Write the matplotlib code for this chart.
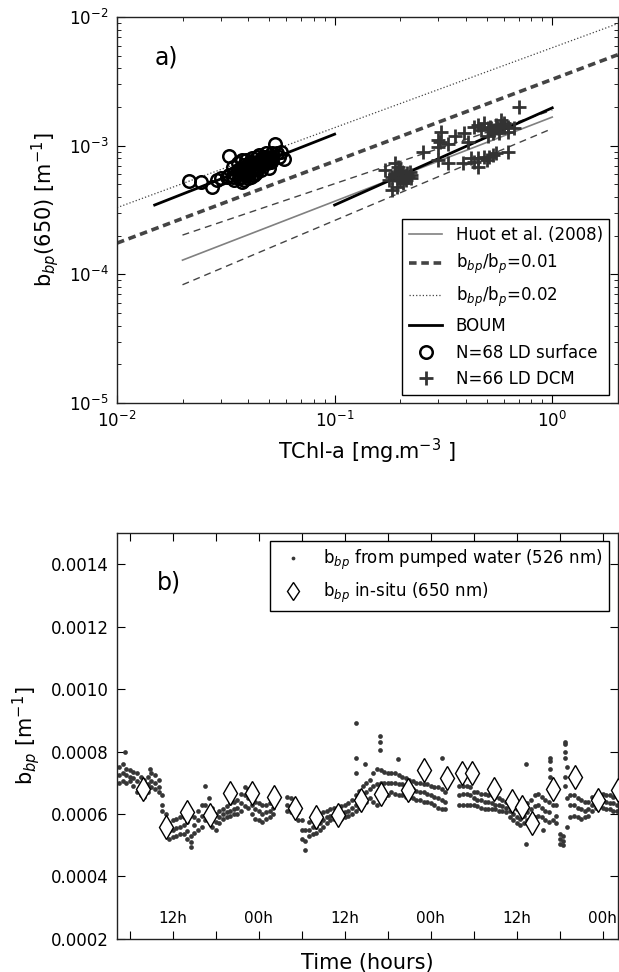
import numpy as np
import matplotlib
matplotlib.use('Agg')
import matplotlib.pyplot as plt

plt.rcParams['font.family'] = ['DejaVu Sans']
plt.rcParams['mathtext.fontset'] = 'dejavusans'

# ---------------- panel a) data ----------------
# model / fit lines (end points)
huot_x = [0.02, 1.0]
huot_y = [1.29e-4, 1.67e-3]
huot_up = [2.02e-4, 1.89e-3]
huot_lo = [8.3e-5, 1.36e-3]
ratio_x = [0.01, 2.0]
ratio001_y = [1.75e-4, 5.1e-3]
ratio002_y = [3.3e-4, 8.9e-3]
boum_surf_x = [0.0149, 0.1]
boum_surf_y = [3.46e-4, 1.23e-3]
boum_dcm_x = [0.1, 1.0]
boum_dcm_y = [3.46e-4, 1.97e-3]

surf_chl = [0.0215, 0.0244, 0.0273, 0.0287, 0.0301, 0.0328, 0.0328, 0.0340, 0.0346, 0.0358,
            0.0365, 0.0371, 0.0377, 0.0384, 0.0391, 0.0398, 0.0405, 0.0412, 0.0419, 0.0427,
            0.0434, 0.0442, 0.0450, 0.0458, 0.0466, 0.0474, 0.0483, 0.0491, 0.0500, 0.0508,
            0.0518, 0.0532, 0.0545, 0.0555, 0.0585, 0.0565,
            0.0365, 0.0371, 0.0377, 0.0384, 0.0391, 0.0398, 0.0405, 0.0412, 0.0419, 0.0427,
            0.0434, 0.0442, 0.0450, 0.0458, 0.0466, 0.0474, 0.0483, 0.0491, 0.0500, 0.0508,
            0.0518, 0.0358, 0.0346, 0.0340, 0.0384, 0.0391, 0.0405, 0.0412, 0.0427, 0.0442,
            0.0377, 0.0320]
surf_bbp = [5.32e-4, 5.19e-4, 4.81e-4, 5.41e-4, 5.58e-4, 8.32e-4, 5.92e-4, 6.87e-4, 5.41e-4, 7.30e-4,
            5.58e-4, 6.48e-4, 7.74e-4, 6.10e-4, 6.87e-4, 5.58e-4, 7.30e-4, 6.48e-4, 7.98e-4, 5.92e-4,
            6.87e-4, 7.51e-4, 8.47e-4, 6.48e-4, 7.08e-4, 8.22e-4, 8.73e-4, 7.30e-4, 6.67e-4, 8.22e-4,
            8.73e-4, 1.03e-3, 8.73e-4, 8.22e-4, 7.88e-4, 8.99e-4,
            6.10e-4, 5.74e-4, 6.67e-4, 7.08e-4, 5.92e-4, 6.48e-4, 6.10e-4, 7.51e-4, 6.67e-4, 7.30e-4,
            6.10e-4, 6.87e-4, 7.30e-4, 7.74e-4, 7.98e-4, 7.51e-4, 7.74e-4, 8.22e-4, 7.74e-4, 7.51e-4,
            7.98e-4, 6.48e-4, 6.10e-4, 5.74e-4, 5.41e-4, 7.74e-4, 6.87e-4, 5.74e-4, 6.48e-4, 8.22e-4,
            5.19e-4, 5.74e-4]

dcm_chl = [0.705,
           0.455, 0.488, 0.523, 0.551, 0.581, 0.602, 0.623, 0.669, 0.571, 0.532, 0.505, 0.505,
           0.542, 0.471, 0.439, 0.581, 0.623,
           0.309, 0.304, 0.298, 0.356, 0.395, 0.409, 0.332, 0.255, 0.298,
           0.298, 0.332, 0.388, 0.439, 0.455, 0.488, 0.514, 0.532, 0.551, 0.623, 0.424, 0.455,
           0.170, 0.183, 0.189, 0.1995, 0.203, 0.210, 0.218, 0.2255, 0.193, 0.183, 0.196, 0.177,
           0.2066, 0.189, 0.203, 0.2255, 0.196, 0.214,
           0.205, 0.212, 0.190, 0.221, 0.515, 0.560, 0.598, 0.500, 0.199]
dcm_bbp = [2.01e-3,
           1.45e-3, 1.49e-3, 1.365e-3, 1.45e-3, 1.585e-3, 1.49e-3, 1.41e-3, 1.365e-3, 1.25e-3, 1.25e-3, 1.18e-3, 1.365e-3,
           1.32e-3, 1.32e-3, 1.41e-3, 1.41e-3, 1.285e-3,
           1.285e-3, 1.075e-3, 9.82e-4, 1.18e-3, 1.25e-3, 1.075e-3, 1.04e-3, 8.98e-4, 1.11e-3,
           7.74e-4, 7.30e-4, 7.30e-4, 7.52e-4, 7.98e-4, 8.22e-4, 8.22e-4, 8.47e-4, 8.73e-4, 8.98e-4, 7.98e-4, 6.87e-4,
           6.48e-4, 5.74e-4, 7.30e-4, 5.41e-4, 5.74e-4, 5.58e-4, 5.74e-4, 5.92e-4, 4.81e-4, 4.53e-4, 6.87e-4, 5.41e-4,
           5.10e-4, 6.10e-4, 6.28e-4, 5.58e-4, 5.58e-4, 6.10e-4,
           5.92e-4, 5.41e-4, 5.92e-4, 6.28e-4, 1.41e-3, 1.365e-3, 1.45e-3, 7.74e-4, 6.48e-4]

# ---------------- panel b) data ----------------
nan = np.nan
pumped_t = np.arange(4.5, 74.01, 0.5)   # sampling times (hours)
pumped_lo = [7.0, 7.05, 7.0, 7.05, 6.9, 6.7, 6.6, 6.55, 6.7, 6.85,
             6.8, 6.7, 6.1, 5.5, 5.2, 5.25, 5.3, 5.35, 5.35, 5.2,
             4.95, 5.4, 5.5, 5.6, 5.8, 5.8, 5.6, 5.5, 5.7, 5.85,
             5.9, 5.95, 6.0, 6.0, 6.1, 6.25, 6.2, 6.0, 5.85, 5.8,
             5.75, 5.85, 5.9, 6.0, nan, nan, nan, 6.1, 6.05, 6.0,
             5.8, 5.2, 4.85, 5.3, 5.35, 5.4, 5.5, 5.6, 5.7, 5.8,
             5.85, 5.85, 5.85, 5.9, 5.95, 6.0, 6.1, 6.2, 6.3, 6.4,
             6.5, 6.4, 6.3, 6.4, 6.5, 6.6, 6.7, 6.65, 6.6, 6.6,
             6.55, 6.5, 6.5, 6.45, 6.45, 6.4, 6.4, 6.35, 6.3, 6.2,
             6.15, 6.15, nan, nan, nan, 6.3, 6.3, 6.3, 6.3, 6.3,
             6.25, 6.2, 6.15, 6.15, 6.15, 6.15, 6.1, 6.1, 6.05, 5.9,
             5.8, 5.7, 5.65, 5.7, 5.8, 5.85, 5.9, 5.95, 5.9, 5.8,
             5.75, 5.8, 5.7, 5.05, 5.0, 5.6, 5.9, 5.95, 5.9, 5.85,
             5.9, 5.95, 6.1, 6.2, 6.25, 6.2, 6.15, 6.15, 6.1, 6.1]
pumped_mid = [7.25, 7.3, 7.25, 7.2, 7.15, 7.05, 6.9, 6.8, 6.95, 7.05,
              7.0, 6.85, 6.3, 5.75, 5.45, 5.5, 5.55, 5.6, 5.65, 5.45,
              5.1, 5.65, 5.8, 5.95, 6.3, 6.15, 5.9, 5.75, 5.9, 6.0,
              6.05, 6.1, 6.15, 6.2, 6.35, 6.6, 6.5, 6.3, 6.15, 6.1,
              6.0, 6.05, 6.1, 6.2, nan, nan, nan, 6.3, 6.25, 6.2,
              6.05, 5.5, 5.15, 5.5, 5.6, 5.6, 5.7, 5.8, 5.9, 5.95,
              6.0, 6.0, 6.05, 6.05, 6.1, 6.2, 6.3, 6.45, 6.6, 6.7,
              6.8, 6.9, 6.95, 7.0, 7.0, 7.0, 7.0, 7.0, 6.95, 6.95,
              6.9, 6.85, 6.8, 6.75, 6.7, 6.7, 6.65, 6.6, 6.55, 6.5,
              6.45, 6.4, nan, nan, nan, 6.6, 6.65, 6.65, 6.6, 6.5,
              6.45, 6.45, 6.4, 6.4, 6.35, 6.3, 6.3, 6.25, 6.2, 6.1,
              6.0, 5.9, 5.85, 5.95, 6.05, 6.15, 6.25, 6.3, 6.2, 6.1,
              6.05, 6.3, 5.95, 5.2, 5.15, 6.5, 6.3, 6.3, 6.2, 6.15,
              6.1, 6.15, 6.3, 6.4, 6.45, 6.45, 6.4, 6.35, 6.35, 6.3]
pumped_hi = [7.5, 7.6, 7.45, 7.4, 7.35, 7.3, 7.2, 7.1, 7.2, 7.3,
             7.25, 7.1, 6.6, 6.0, 5.7, 5.8, 5.85, 5.9, 5.9, 5.75,
             5.3, 5.9, 6.1, 6.3, 6.9, 6.5, 6.2, 6.0, 6.1, 6.15,
             6.25, 6.35, 6.4, 6.45, 6.65, 6.85, 6.8, 6.6, 6.4, 6.35,
             6.3, 6.3, 6.35, 6.5, nan, nan, nan, 6.55, 6.5, 6.45,
             6.3, 5.8, 5.5, 5.75, 5.85, 5.85, 5.95, 6.05, 6.1, 6.15,
             6.2, 6.2, 6.25, 6.3, 6.35, 6.45, 6.6, 6.75, 6.9, 7.0,
             7.1, 7.3, 7.45, 7.4, 7.35, 7.3, 7.3, 7.3, 7.25, 7.2,
             7.15, 7.1, 7.05, 7.0, 7.0, 6.95, 6.95, 6.9, 6.85, 6.85,
             6.8, 6.7, nan, nan, nan, 6.9, 6.9, 6.9, 6.85, 6.7,
             6.7, 6.65, 6.65, 6.6, 6.6, 6.55, 6.5, 6.45, 6.4, 6.3,
             6.2, 6.15, 6.1, 6.2, 6.35, 6.45, 6.6, 6.65, 6.55, 6.45,
             6.4, 7.0, 6.3, 5.35, 5.3, 7.5, 6.6, 6.6, 6.5, 6.45,
             6.4, 6.4, 6.55, 6.6, 6.65, 6.65, 6.6, 6.6, 6.55, 6.55]
outlier_t = [5.3, 8.8, 37.5, 37.5, 37.5, 38.8, 40.9, 40.9, 40.9, 43.4, 49.5, 61.3,
             61.3, 63.7, 64.7, 64.7, 64.7, 64.7, 66.8, 66.8, 66.8, 66.8, 66.8, 66.8]
outlier_v = [8.0, 7.45, 8.9, 7.8, 7.3, 7.6, 8.5, 8.3, 8.05, 7.75, 7.8, 5.05,
             7.6, 5.5, 7.2, 7.45, 7.7, 7.8, 8.3, 8.25, 8.0, 7.8, 7.2, 6.9]

insitu_t = [7.9, 11.1, 14.0, 17.2, 20.0, 23.0, 26.1, 29.1, 32.0, 35.1, 38.3, 41.1, 44.8,
            47.0, 50.2, 52.4, 53.8, 56.8, 59.3, 60.7, 62.1, 65.0, 68.2, 71.4, 74.1]
insitu_v = [6.80, 5.59, 6.07, 5.97, 6.66, 6.66, 6.53, 6.20, 5.91, 5.97, 6.45, 6.63, 6.77,
            7.41, 7.14, 7.30, 7.30, 6.80, 6.42, 6.23, 5.70, 6.80, 7.20, 6.45, 6.77]

hour_ticks = [6, 12, 18, 24, 30, 36, 42, 48, 54, 60, 66, 72]
hour_label_pos = [12, 24, 36, 48, 60, 72]
hour_labels = ['12h', '00h', '12h', '00h', '12h', '00h']
yticks_b = [0.0002, 0.0004, 0.0006, 0.0008, 0.0010, 0.0012, 0.0014]

SCALE = 1e-4

# ---------------- figure ----------------
fig = plt.figure(figsize=(6.19, 9.72), dpi=100)
ax1 = fig.add_axes([0.189, 0.5854, 0.809, 0.397])
ax2 = fig.add_axes([0.189, 0.034, 0.809, 0.4177])

dark = '#444444'
ax1.plot(huot_x, huot_up, color=dark, lw=1.0, dashes=(5, 3.5))
ax1.plot(huot_x, huot_lo, color=dark, lw=1.0, dashes=(5, 3.5))
ax1.plot(huot_x, huot_y, color='#808080', lw=1.2, label='Huot et al. (2008)')
ax1.plot(ratio_x, ratio001_y, color=dark, lw=2.6, dashes=(2.1, 1.3),
         label=r'b$_{bp}$/b$_p$=0.01')
ax1.plot(ratio_x, ratio002_y, color=dark, lw=0.9, ls=':', label=r'b$_{bp}$/b$_p$=0.02')
ax1.plot(boum_surf_x, boum_surf_y, color='black', lw=2.0, label='BOUM')
ax1.plot(boum_dcm_x, boum_dcm_y, color='black', lw=2.0)
ax1.plot(surf_chl, surf_bbp, 'o', mfc='none', mec='black', ms=9, mew=1.8,
         label='N=68 LD surface', zorder=4)
ax1.plot(dcm_chl, dcm_bbp, '+', color='#333333', ms=10, mew=2.0,
         label='N=66 LD DCM', zorder=4)

ax1.set_xscale('log')
ax1.set_yscale('log')
ax1.set_xlim(0.01, 2.0)
ax1.set_ylim(1e-5, 1e-2)
ax1.set_xlabel(r'TChl-a [mg.m$^{-3}$ ]', fontsize=15, labelpad=4)
ax1.set_ylabel(r'b$_{bp}$(650) [m$^{-1}$]', fontsize=15, labelpad=6)
ax1.text(0.075, 0.895, 'a)', transform=ax1.transAxes, fontsize=17, va='center')
leg1 = ax1.legend(loc='lower right', fontsize=12, numpoints=1, fancybox=False,
                  edgecolor='black', framealpha=1, borderaxespad=0.5, handlelength=2.0)
leg1.get_frame().set_linewidth(1.0)

# panel b
dot_kw = dict(ls='none', marker='o', color='#363636', ms=3.4, mew=0)
ax2.plot(pumped_t, np.array(pumped_lo) * SCALE,
         label=r'b$_{bp}$ from pumped water (526 nm)', **dot_kw)
ax2.plot(pumped_t, np.array(pumped_mid) * SCALE, **dot_kw)
ax2.plot(pumped_t, np.array(pumped_hi) * SCALE, **dot_kw)
ax2.plot(outlier_t, np.array(outlier_v) * SCALE, **dot_kw)
ax2.plot(insitu_t, np.array(insitu_v) * SCALE, 'd', mfc='white', mec='black', ms=12,
         mew=1.0, label=r'b$_{bp}$ in-situ (650 nm)', zorder=4)

ax2.set_xlim(4.2, 74.1)
ax2.set_ylim(0.0002, 0.0015)
ax2.set_xticks(hour_ticks)
ax2.set_xticklabels([])
ax2.set_yticks(yticks_b)
ax2.set_yticklabels(['%.4f' % v for v in yticks_b])
for pos, lab in zip(hour_label_pos, hour_labels):
    ax2.text(pos, 0.000265, lab, ha='center', va='center', fontsize=11)
ax2.set_xlabel('Time (hours)', fontsize=15, labelpad=4)
ax2.set_ylabel(r'b$_{bp}$ [m$^{-1}$]', fontsize=15, labelpad=6)
ax2.text(0.08, 0.879, 'b)', transform=ax2.transAxes, fontsize=17, va='center')
leg2 = ax2.legend(loc='upper right', fontsize=12, numpoints=1, fancybox=False,
                  edgecolor='black', framealpha=1, borderaxespad=0.5, markerscale=0.8)
leg2.get_frame().set_linewidth(1.0)

for ax in (ax1, ax2):
    for sp in ax.spines.values():
        sp.set_linewidth(1.0)
        sp.set_color('#222222')
    ax.tick_params(which='major', direction='in', length=6, width=0.8, top=True,
                   right=True, labelsize=12, pad=6)
    ax.tick_params(which='minor', direction='in', length=3, width=0.6, top=True, right=True)

fig.savefig('out.png', dpi=100)
